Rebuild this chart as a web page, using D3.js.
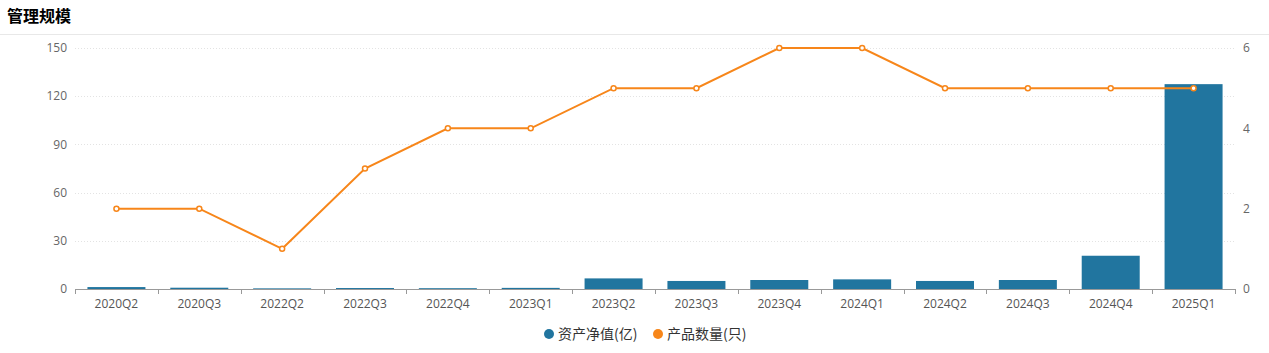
<!DOCTYPE html>
<meta charset="utf-8">
<title>管理规模</title>
<style>
    body {
        margin: 0;
        font-family: "Open Sans", "Noto Sans CJK SC", sans-serif;
        background: #fff;
    }
</style>

<body>
    <div id="chart"></div>

    <script src="https://cdn.jsdelivr.net/npm/d3@7"></script>
    <script>
        // data
        var quarters = ["2020Q2", "2020Q3", "2022Q2", "2022Q3", "2022Q4", "2023Q1", "2023Q2",
            "2023Q3", "2023Q4", "2024Q1", "2024Q2", "2024Q3", "2024Q4", "2025Q1"];
        var netAssets = [1.2, 0.8, 0.4, 0.6, 0.5, 0.7, 6.6, 5.0, 5.6, 6.0, 5.0, 5.6, 20.7, 127.5];
        var productCount = [2, 2, 1, 3, 4, 4, 5, 5, 6, 6, 5, 5, 5, 5];
        var leftTicks = [0, 30, 60, 90, 120, 150];
        var rightTicks = [0, 2, 4, 6];
        var legendNames = ["资产净值(亿)", "产品数量(只)"];

        var W = 1269, H = 353;
        var margin = { top: 48, right: 34, bottom: 64, left: 75 };
        var width = W - margin.left - margin.right,
            height = H - margin.top - margin.bottom;

        var blue = "#21759f", orange = "#f7861a";

        var svg = d3.select("#chart").append("svg")
            .attr("width", W)
            .attr("height", H);

        // title + divider
        svg.append("text")
            .attr("x", 7).attr("y", 22)
            .style("font-family", "'Noto Sans CJK SC', sans-serif")
            .style("font-size", "16px").style("font-weight", "bold").style("fill", "#000")
            .text("管理规模");
        svg.append("line")
            .attr("x1", 0).attr("x2", W).attr("y1", 34.5).attr("y2", 34.5)
            .style("stroke", "#e8e8e8");

        var g = svg.append("g")
            .attr("transform", "translate(" + margin.left + "," + margin.top + ")");

        var x = d3.scaleBand().domain(quarters).range([0, width]).paddingInner(0.3).paddingOuter(0.15);
        var xEdge = d3.scaleBand().domain(quarters).range([0, width]);
        var yL = d3.scaleLinear().domain([0, 150]).range([height, 0]);
        var yR = d3.scaleLinear().domain([0, 6]).range([height, 0]);

        // grid
        g.selectAll(".grid").data(leftTicks.slice(1)).enter().append("line")
            .attr("x1", 0).attr("x2", width)
            .attr("y1", function(d) { return Math.round(yL(d)) + 0.5; })
            .attr("y2", function(d) { return Math.round(yL(d)) + 0.5; })
            .style("stroke", "#e3e3e3").style("stroke-dasharray", "1,2");

        // left axis labels
        g.selectAll(".ly").data(leftTicks).enter().append("text")
            .attr("x", -8).attr("y", function(d) { return yL(d); })
            .attr("dy", "0.35em").attr("text-anchor", "end")
            .style("font-size", "12px").style("fill", "#666")
            .text(function(d) { return d; });

        // right axis labels
        g.selectAll(".ry").data(rightTicks).enter().append("text")
            .attr("x", width + 8).attr("y", function(d) { return yR(d); })
            .attr("dy", "0.35em").attr("text-anchor", "start")
            .style("font-size", "12px").style("fill", "#666")
            .text(function(d) { return d; });

        // bars
        g.selectAll(".bar").data(quarters).enter().append("rect")
            .attr("x", function(d) { return x(d); })
            .attr("width", x.bandwidth())
            .attr("y", function(d, i) { return yL(netAssets[i]); })
            .attr("height", function(d, i) { return height - yL(netAssets[i]); })
            .style("fill", blue);

        // x axis
        var xAxis = g.append("g").attr("transform", "translate(0," + height + ")");
        xAxis.append("line").attr("x1", 0).attr("x2", width).attr("y1", 0.5).attr("y2", 0.5)
            .style("stroke", "#999");
        var edges = quarters.map(function(d) { return xEdge(d); }).concat([width]);
        xAxis.selectAll(".tk").data(edges).enter().append("line")
            .attr("x1", function(d) { return Math.round(d) + 0.5; })
            .attr("x2", function(d) { return Math.round(d) + 0.5; })
            .attr("y1", 0).attr("y2", 5).style("stroke", "#999");
        xAxis.selectAll(".xl").data(quarters).enter().append("text")
            .attr("x", function(d) { return xEdge(d) + xEdge.bandwidth() / 2; })
            .attr("y", 19).attr("text-anchor", "middle")
            .style("font-size", "12px").style("fill", "#555")
            .text(function(d) { return d; });

        // line
        var cx = function(i) { return xEdge(quarters[i]) + xEdge.bandwidth() / 2; };
        var line = d3.line()
            .x(function(d, i) { return cx(i); })
            .y(function(d) { return yR(d); });
        g.append("path").datum(productCount)
            .attr("d", line)
            .style("fill", "none").style("stroke", orange).style("stroke-width", 2);
        g.selectAll(".pt").data(productCount).enter().append("circle")
            .attr("cx", function(d, i) { return cx(i); })
            .attr("cy", function(d) { return yR(d); })
            .attr("r", 2.5)
            .style("fill", "#fff").style("stroke", orange).style("stroke-width", 1.5);

        // legend
        var legend = svg.append("g").attr("transform", "translate(0,334)")
            .style("font-family", "'Noto Sans CJK SC', sans-serif");
        var items = [{ name: legendNames[0], color: blue, x: 549 }, { name: legendNames[1], color: orange, x: 658 }];
        items.forEach(function(it) {
            legend.append("circle").attr("cx", it.x).attr("cy", 0).attr("r", 5).style("fill", it.color);
            legend.append("text").attr("x", it.x + 9).attr("y", 0).attr("dy", "0.35em")
                .style("font-size", "14px").style("fill", "#333").text(it.name);
        });
    </script>
</body>
